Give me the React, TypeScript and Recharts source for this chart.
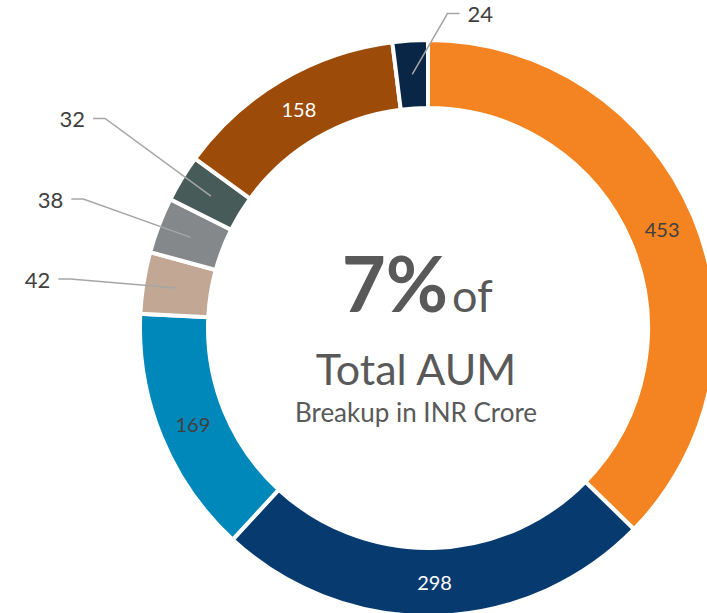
import React from 'react';
import { PieChart, Pie, Cell, Label } from 'recharts';

const segments = ['A', 'B', 'C', 'D', 'E', 'F', 'G', 'H'];
const values = [453, 298, 169, 42, 38, 32, 158, 24];
const colors = ['#F48421', '#073B70', '#0088BB', '#C2A894', '#84888B', '#475B59', '#9C4C08', '#0A2646'];
const textColors = ['#404040', '#FFFFFF', '#404040', '#404040', '#404040', '#404040', '#FFFFFF', '#404040'];

// leader-line elbows for the small slices: [radius, angle shift from slice middle, side]
const elbows: Record<number, [number, number, number]> = {
    3: [361, 1.25, -1],
    4: [368, 0.4, -1],
    5: [385, -1.7, -1],
    7: [315, -7.1, 1],
};

const data = segments.map((name, i) => ({ name, value: values[i] }));

const W = 707;
const H = 613;
const CX = 428;
const CY = 328;
const INNER = 220;
const OUTER = 288;
const FONT = 'Lato, "Open Sans", sans-serif';
const RAD = Math.PI / 180;

const polar = (r: number, deg: number) => ({
    x: CX + r * Math.cos(-deg * RAD),
    y: CY + r * Math.sin(-deg * RAD),
});

const renderLabel = (props: any) => {
    const { midAngle, index, value } = props;
    const mid = polar((INNER + OUTER) / 2, midAngle);
    const elbowDef = elbows[index];
    if (!elbowDef) {
        return (
            <text x={mid.x} y={mid.y} textAnchor="middle" dominantBaseline="central"
                fill={textColors[index]} fontSize={20} fontFamily={FONT}>
                {value}
            </text>
        );
    }
    const [r, shift, dir] = elbowDef;
    const elbow = polar(r, midAngle + shift);
    const end = { x: elbow.x + dir * 12, y: elbow.y };
    return (
        <g>
            <polyline points={`${mid.x},${mid.y} ${elbow.x},${elbow.y} ${end.x},${end.y}`}
                fill="none" stroke="#A6A6A6" strokeWidth={1.5} />
            <text x={end.x + dir * 8} y={end.y} textAnchor={dir > 0 ? 'start' : 'end'}
                dominantBaseline="central" fill="#404040" fontSize={22} fontFamily={FONT}>
                {value}
            </text>
        </g>
    );
};

const CenterText = () => (
    <g fontFamily={FONT} fill="#595959">
        <text x={448} y={312} textAnchor="end" fontSize={76} fontWeight="bold">7%</text>
        <text x={452} y={312} textAnchor="start" fontSize={45}>of</text>
        <text x={416} y={385} textAnchor="middle" fontSize={43}>Total AUM</text>
        <text x={416} y={422} textAnchor="middle" fontSize={26}>Breakup in INR Crore</text>
    </g>
);

export default function App() {
    return (
        <div style={{ position: 'absolute', left: 0, top: 0, width: W, height: H, background: '#fff' }}>
            <PieChart width={W} height={H} margin={{ top: 0, right: 0, bottom: 0, left: 0 }}>
                <Pie
                    data={data}
                    dataKey="value"
                    nameKey="name"
                    cx={CX}
                    cy={CY}
                    innerRadius={INNER}
                    outerRadius={OUTER}
                    startAngle={90}
                    endAngle={-270}
                    stroke="#FFFFFF"
                    strokeWidth={4}
                    label={renderLabel}
                    labelLine={false}
                    isAnimationActive={false}
                >
                    {data.map((d, i) => (
                        <Cell key={d.name} fill={colors[i]} />
                    ))}
                    <Label position="center" content={() => <CenterText />} />
                </Pie>
            </PieChart>
        </div>
    );
}
